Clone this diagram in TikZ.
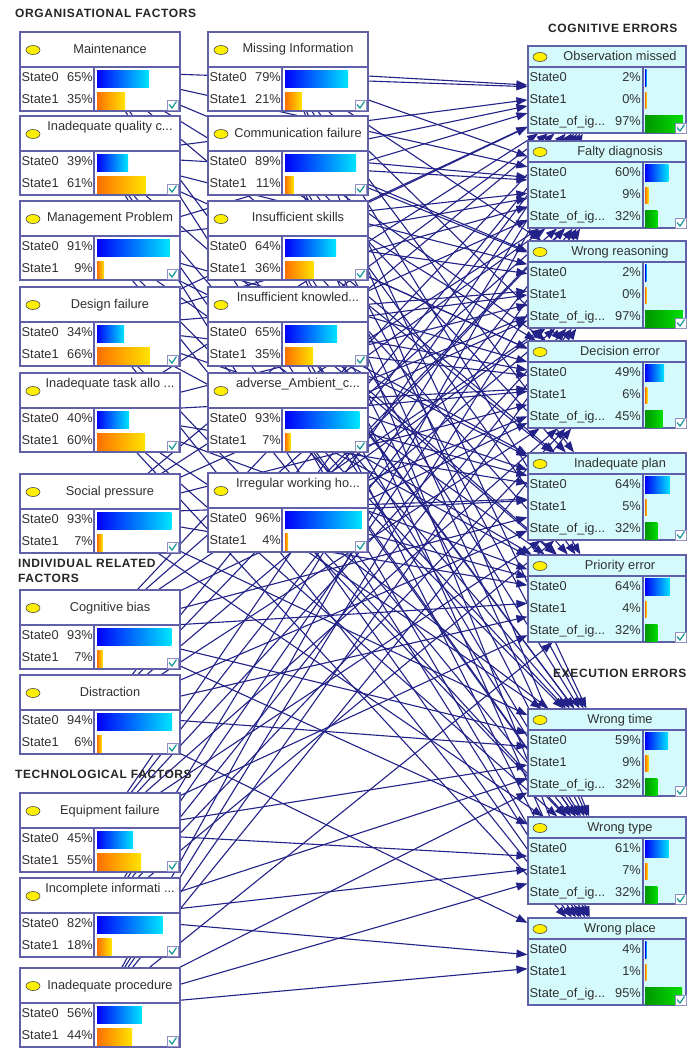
\documentclass[tikz,border=0pt]{standalone}
\usepackage{fontspec}
\setmainfont{Liberation Sans}
\usepackage{tikz}
\usetikzlibrary{arrows.meta,backgrounds,calc}

\definecolor{nodeline}{RGB}{96,96,168}
\definecolor{arcline}{RGB}{34,34,136}
\definecolor{errfill}{RGB}{212,250,252}
\definecolor{txtgray}{RGB}{48,48,48}
\definecolor{barblue}{RGB}{0,0,250}
\definecolor{barcyan}{RGB}{0,230,255}
\definecolor{barorange}{RGB}{255,112,0}
\definecolor{baryellow}{RGB}{255,228,0}
\definecolor{bargreenA}{RGB}{0,150,0}
\definecolor{bargreenB}{RGB}{0,222,0}
\definecolor{dotyellow}{RGB}{255,240,0}
\definecolor{chkteal}{RGB}{20,150,150}

\tikzset{
  pbox/.style={draw=nodeline, line width=1.1pt, fill=white, inner sep=0pt,
    minimum width=160pt, minimum height=79pt},
  ebox/.style={pbox, fill=errfill, minimum width=158pt, minimum height=87pt},
  divline/.style={draw=nodeline, line width=1.1pt},
  ttl/.style={font=\fontsize{12.8}{14}\selectfont, text=txtgray, inner sep=0pt,
    text height=9pt, text depth=2.5pt},
  lbl/.style={ttl},
  grouphead/.style={font=\fontsize{12}{15}\selectfont\bfseries\addfontfeature{LetterSpace=5},
    text=black!85, inner sep=0pt, anchor=west, align=left},
  ydot/.style={fill=dotyellow, draw=black!70, line width=0.6pt},
  bluebar/.style={left color=barblue, right color=barcyan},
  orangebar/.style={left color=barorange, right color=baryellow},
  greenbar/.style={left color=bargreenA, right color=bargreenB},
  chkbox/.style={draw=nodeline!70, line width=0.8pt, fill=white},
  chkmark/.style={draw=chkteal, line width=1.2pt},
  netarc/.style={draw=arcline, line width=1.1pt, -{Triangle[length=11pt,width=8pt]}}
}

\newcommand{\pfactor}[7]{%
  \begin{scope}[shift={(#2,#3)}]
    \node[pbox] (#1) at (80,39.5) {};
    \draw[divline] (0,35) -- (160,35) (74,35) -- (74,79);
    \filldraw[ydot] (13,18) ellipse [x radius=7pt, y radius=4.5pt];
    \node[ttl] (#1-t) at (90,#5) {#4};
    \node[lbl, anchor=west] (#1-a) at (1.5,46.5) {State0};
    \node[lbl, anchor=east] (#1-b) at (73,46.5) {#6\%};
    \node[lbl, anchor=west] (#1-c) at (1.5,68.5) {State1};
    \node[lbl, anchor=east] (#1-d) at (73,68.5) {#7\%};
    \shade[bluebar] (77,38) rectangle ({77+max(0.8*#6,1.5)},55);
    \shade[orangebar] (77,60) rectangle ({77+max(0.8*#7,1.5)},77);
    \draw[chkbox] (147,68) rectangle (158,78);
    \draw[chkmark] (149,72.5) -- (152,76) -- (156.5,69.5);
  \end{scope}}

\newcommand{\efactor}[6]{%
  \begin{scope}[shift={(528,#2)}]
    \node[ebox] (#1) at (79,43.5) {};
    \draw[divline] (0,21) -- (158,21) (115,21) -- (115,87);
    \filldraw[ydot] (12,11) ellipse [x radius=7pt, y radius=4.5pt];
    \node[ttl] (#1-t) at (92,11) {#3};
    \node[lbl, anchor=west] (#1-a) at (1.5,32) {State0};
    \node[lbl, anchor=east] (#1-b) at (113,32) {#4\%};
    \node[lbl, anchor=west] (#1-c) at (1.5,54) {State1};
    \node[lbl, anchor=east] (#1-d) at (113,54) {#5\%};
    \node[lbl, anchor=west] (#1-e) at (1.5,76) {State\_of\_ig...};
    \node[lbl, anchor=east] (#1-f) at (113,76) {#6\%};
    \shade[bluebar] (117,23) rectangle ({117+max(0.39*#4,1.5)},40);
    \shade[orangebar] (117,46) rectangle ({117+max(0.39*#5,1.5)},62);
    \shade[greenbar] (117,69) rectangle ({117+max(0.39*#6,1.5)},86);
    \draw[chkbox] (147,77) rectangle (158,87);
    \draw[chkmark] (149,81.5) -- (152,85) -- (156.5,78.5);
  \end{scope}}

\begin{document}
\begin{tikzpicture}[x=1pt, y=-1pt]
    \useasboundingbox (0,0) rectangle (688,1053);

    \node[grouphead] (orghd) at (15,13) {ORGANISATIONAL FACTORS};
    \node[grouphead] (indhd) at (18,570.5) {INDIVIDUAL RELATED\\FACTORS};
    \node[grouphead] (techhd) at (15,774) {TECHNOLOGICAL FACTORS};
    \node[grouphead] (coghd) at (548,28) {COGNITIVE ERRORS};
    \node[grouphead] (exehd) at (553,673) {EXECUTION ERRORS};

    \pfactor{mnt}{20}{32}{Maintenance}{18}{65}{35}
    \pfactor{iqc}{20}{116}{Inadequate quality c...}{11}{39}{61}
    \pfactor{mgp}{20}{201}{Management Problem}{17}{91}{9}
    \pfactor{dsf}{20}{287}{Design failure}{18}{34}{66}
    \pfactor{ita}{20}{373}{Inadequate task allo ...}{11}{40}{60}
    \pfactor{spr}{20}{474}{Social pressure}{18}{93}{7}
    \pfactor{cgb}{20}{590}{Cognitive bias}{18}{93}{7}
    \pfactor{dis}{20}{675}{Distraction}{18}{94}{6}
    \pfactor{eqf}{20}{793}{Equipment failure}{18}{45}{55}
    \pfactor{inc}{20}{878}{Incomplete informati ...}{11}{82}{18}
    \pfactor{inp}{20}{968}{Inadequate procedure}{18}{56}{44}

    \pfactor{mis}{208}{32}{Missing Information}{17}{79}{21}
    \pfactor{com}{208}{116}{Communication failure}{18}{89}{11}
    \pfactor{isk}{208}{201}{Insufficient skills}{17}{64}{36}
    \pfactor{ikn}{208}{287}{Insufficient knowled...}{11}{65}{35}
    \pfactor{amb}{208}{373}{adverse\_Ambient\_c...}{11}{93}{7}
    \pfactor{irw}{208}{473}{Irregular working ho...}{11}{96}{4}

    \efactor{obs}{46}{Observation missed}{2}{0}{97}
    \efactor{fdg}{141}{Falty diagnosis}{60}{9}{32}
    \efactor{wrs}{241}{Wrong reasoning}{2}{0}{97}
    \efactor{dec}{341}{Decision error}{49}{6}{45}
    \efactor{ipl}{453}{Inadequate plan}{64}{5}{32}
    \efactor{pri}{555}{Priority error}{64}{4}{32}
    \efactor{wtm}{709}{Wrong time}{59}{9}{32}
    \efactor{wty}{817}{Wrong type}{61}{7}{32}
    \efactor{wpl}{918}{Wrong place}{4}{1}{95}

    \begin{scope}[on background layer]
      \fill[white] (0,0) rectangle (688,1053);
      \foreach \src/\dst in {
          mnt/{obs,fdg,wrs,dec,ipl,wtm,wty},
          iqc/{obs,fdg,wrs,dec,pri,wtm,wty,wpl},
          mgp/{obs,fdg,dec,ipl,pri,wtm,wty},
          dsf/{obs,fdg,wrs,dec,ipl,pri,wty,wpl},
          ita/{obs,wrs,dec,ipl,pri,wtm,wty,wpl},
          spr/{obs,fdg,wrs,dec,ipl,pri,wtm,wty},
          cgb/{obs,fdg,wrs,dec,ipl,pri,wtm,wty},
          dis/{obs,fdg,wrs,dec,ipl,pri,wtm,wpl},
          eqf/{obs,fdg,wrs,dec,ipl,pri,wtm,wty},
          inc/{obs,fdg,wrs,dec,ipl,wtm,wty,wpl},
          inp/{obs,fdg,wrs,dec,pri,wtm,wty,wpl},
          mis/{obs,fdg,wrs,dec,ipl,pri,wtm,wty},
          com/{obs,fdg,wrs,dec,ipl,pri,wtm,wty,wpl},
          isk/{obs,fdg,wrs,dec,ipl,pri,wtm,wty,wpl},
          ikn/{obs,fdg,wrs,dec,ipl,pri,wtm,wty,wpl},
          amb/{fdg,wrs,dec,ipl,pri,wtm,wty,wpl},
          irw/{obs,fdg,wrs,dec,ipl,pri,wtm,wty,wpl}}
        \foreach \d in \dst
          \draw[netarc] (\src) -- (\d);
    \end{scope}
\end{tikzpicture}
\end{document}
